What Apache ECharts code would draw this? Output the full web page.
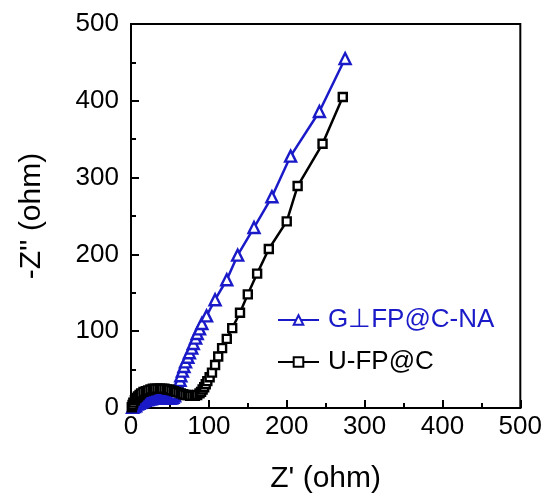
<!DOCTYPE html>
<html>
<head>
<meta charset="utf-8">
<script src="https://cdn.jsdelivr.net/npm/echarts@6/dist/echarts.min.js"></script>
<style>
html, body { margin: 0; padding: 0; background: #fff; }
#main { width: 545px; height: 499px; }
</style>
</head>
<body>
<div id="main"></div>
<script>
// Nyquist plot: Z' vs -Z''
var seriesNames = ['G\u22A5FP@C-NA', 'U-FP@C'];

var gfpData = [
    [2, 1], [4, 2], [6, 3], [8, 5], [10, 6], [12, 7], [14, 8], [16, 9], [18, 10], [20, 11],
    [22, 11], [24, 12], [26, 12], [28, 13], [30, 13], [32, 13], [34, 14], [36, 14], [38, 14],
    [40, 14], [42, 14], [44, 14], [46, 13], [48, 13], [50, 13], [52, 13], [54, 14], [56, 16],
    [58, 19], [60, 25], [61, 30], [63, 36], [64, 42], [66, 48], [68, 54], [70, 60], [73, 66],
    [75, 72], [78, 78], [80, 84], [83, 91], [85, 97], [88, 103], [91, 110], [97, 120],
    [108, 141], [123, 167], [137, 199], [158, 235], [181, 275], [205, 328], [242, 386], [275, 455]
];

var ufpData = [
    [1, 1], [2, 4], [3, 7], [5, 10], [7, 13], [9, 15], [11, 17], [13, 19], [16, 21], [19, 22],
    [22, 23], [25, 24], [28, 25], [31, 25], [34, 25], [37, 25], [40, 25], [43, 25], [46, 24],
    [49, 24], [52, 23], [55, 22], [58, 21], [61, 20], [64, 19], [67, 18], [70, 17], [73, 17],
    [76, 16], [79, 16], [82, 16], [85, 17], [88, 19], [90, 21], [92, 24], [94, 27], [96, 31],
    [98, 35], [101, 40], [104, 46], [108, 56], [112, 67], [117, 78], [123, 90], [130, 104],
    [140, 124], [150, 148], [162, 175], [177, 207], [200, 243], [214, 289], [246, 344], [272, 405]
];

var blue = '#1a1ac8';
var font = 'Liberation Sans, Arial, sans-serif';

var myChart = echarts.init(document.getElementById('main'));

var option = {
    animation: false,
    grid: {
        left: 131, right: 24, top: 24, bottom: 86,
        show: true,
        borderColor: '#000',
        borderWidth: 2
    },
    legend: {
        orient: 'vertical',
        left: 272,
        top: 302,
        itemWidth: 41,
        itemHeight: 12,
        itemGap: 16,
        textStyle: { fontFamily: font, fontSize: 26, padding: [0, 0, 0, 4] },
        data: [
            { name: seriesNames[0], textStyle: { color: blue } },
            { name: seriesNames[1], textStyle: { color: '#000' } }
        ]
    },
    xAxis: {
        type: 'value',
        min: 0, max: 500, interval: 100,
        name: "Z' (ohm)",
        nameLocation: 'middle',
        nameGap: 56,
        nameTextStyle: { fontFamily: font, fontSize: 30, color: '#000' },
        axisLine: { show: true, lineStyle: { color: '#000', width: 2 } },
        axisTick: { show: true, inside: true, length: 8, lineStyle: { color: '#000', width: 2 } },
        minorTick: { show: true, splitNumber: 2, length: 5, lineStyle: { color: '#000', width: 2 } },
        axisLabel: { fontFamily: font, fontSize: 26, color: '#000', margin: 6 },
        splitLine: { show: false }
    },
    yAxis: {
        type: 'value',
        min: 0, max: 500, interval: 100,
        name: '-Z\'\' (ohm)',
        nameLocation: 'middle',
        nameGap: 84,
        nameTextStyle: { fontFamily: font, fontSize: 30, color: '#000' },
        axisLine: { show: true, lineStyle: { color: '#000', width: 2 } },
        axisTick: { show: true, inside: true, length: 8, lineStyle: { color: '#000', width: 2 } },
        minorTick: { show: true, splitNumber: 2, length: 5, lineStyle: { color: '#000', width: 2 } },
        axisLabel: { fontFamily: font, fontSize: 26, color: '#000', margin: 12 },
        splitLine: { show: false }
    },
    series: [
        {
            name: seriesNames[0],
            type: 'line',
            data: gfpData,
            symbol: 'triangle',
            symbolSize: 11,
            showAllSymbol: true,
            lineStyle: { color: blue, width: 2.5 },
            itemStyle: { color: '#fff', borderColor: blue, borderWidth: 2.4 }
        },
        {
            name: seriesNames[1],
            type: 'line',
            data: ufpData,
            symbol: 'rect',
            symbolSize: 8,
            showAllSymbol: true,
            lineStyle: { color: '#000', width: 2.5 },
            itemStyle: { color: '#fff', borderColor: '#000', borderWidth: 2.4 }
        }
    ]
};

myChart.setOption(option);
</script>
</body>
</html>
